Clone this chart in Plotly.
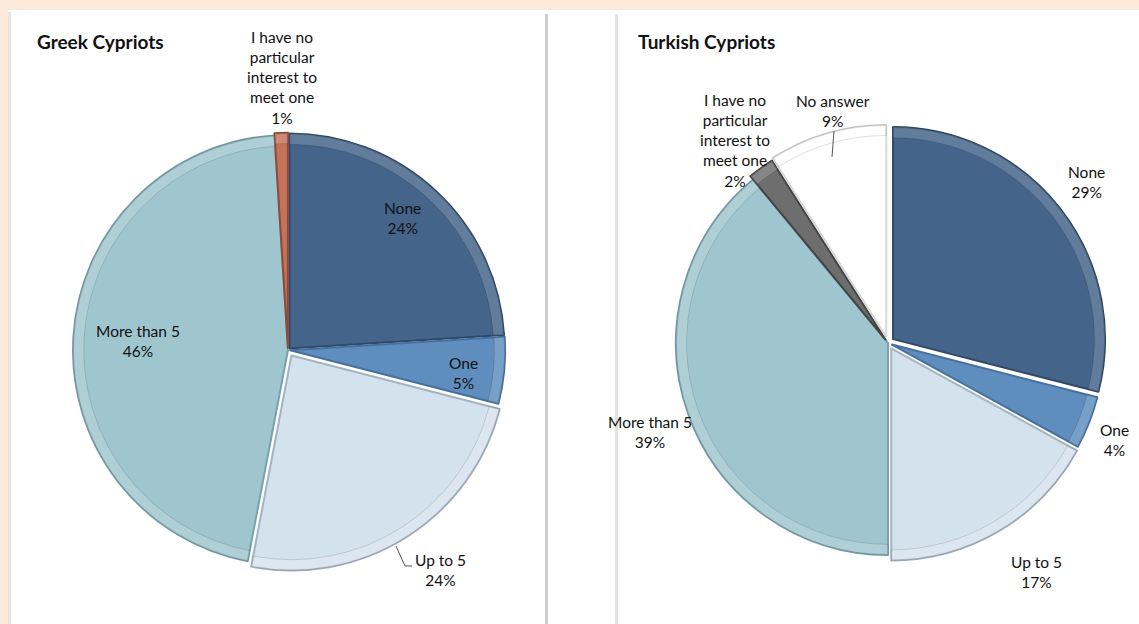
import math
import plotly.graph_objects as go

W, H = 1139, 624

# data
greek_labels = ["None", "One", "Up to 5", "More than 5",
                "I have no<br>particular<br>interest to<br>meet one"]
greek_values = [24, 5, 24, 46, 1]

turkish_labels = ["None", "One", "Up to 5", "More than 5",
                  "I have no<br>particular<br>interest to<br>meet one", "No answer"]
turkish_values = [29, 4, 17, 39, 2, 9]

# styles
greek_colors = ["#44648A", "#5F8DBE", "#D4E2EE", "#9FC6CF", "#C4735A"]
greek_lines = ["#2E4A66", "#46719E", "#A3B3C2", "#78A1AB", "#8E4A38"]
turkish_colors = ["#44648A", "#5F8DBE", "#D4E2EE", "#9FC6CF", "#6E6E6E", "#FFFFFF"]
turkish_lines = ["#2E4A66", "#46719E", "#A3B3C2", "#78A1AB", "#444444", "#D8D8D8"]
greek_pull = [0.01, 0.01, 0.03, 0.0, 0.01]
turkish_pull = [0.03, 0.02, 0.03, 0.0, 0.02, 0.03]
# label distance from centre (fraction of radius) plus a small pixel nudge
greek_label_r = [0.81, 0.82, 1.25, 0.70, 1.27]
greek_nudge = [(-5, -5), (0, 6), (8, -7), (0, 0), (3, 0)]
turkish_label_r = [1.21, 1.16, 1.29, 1.20, 1.19, 1.12]
turkish_nudge = [(-4, -4), (-2, 6), (9, -6), (1, 3), (-5, 2), (11, -4)]

FONT = "Lato, 'Open Sans', Arial, sans-serif"


def px(x):
    return x / W


def py(y):
    return 1 - y / H


def pie_domain(pull, cx, cy, r):
    R = r * (1 + max(pull))
    return dict(x=[px(cx - R), px(cx + R)], y=[py(cy + R), py(cy - R)])


def pie_trace(name, labels, values, colors, lines, pull, cx, cy, r):
    return go.Pie(
        name=name,
        labels=[l.replace("<br>", " ") for l in labels],
        values=values,
        sort=False,
        direction="clockwise",
        rotation=0,
        pull=pull,
        textinfo="none",
        hoverinfo="label+percent",
        marker=dict(colors=colors, line=dict(color=lines, width=2)),
        domain=pie_domain(pull, cx, cy, r),
        showlegend=False,
    )


def rim_trace(labels, values, pull, cx, cy, r):
    # thin light bevel ring on the outside of each slice
    return go.Pie(
        labels=[l.replace("<br>", " ") for l in labels],
        values=values,
        sort=False,
        direction="clockwise",
        rotation=0,
        pull=pull,
        hole=0.95,
        textinfo="none",
        hoverinfo="skip",
        marker=dict(colors=["rgba(255,255,255,0.16)"] * len(values),
                    line=dict(color="rgba(0,0,0,0.12)", width=1)),
        domain=pie_domain(pull, cx, cy, r),
        showlegend=False,
    )


def pie_labels(labels, values, label_r, nudge, cx, cy, r):
    anns = []
    total = sum(values)
    start = 0
    for lab, v, k, (nx, ny) in zip(labels, values, label_r, nudge):
        mid = (start + v / 2) / total * 2 * math.pi
        start += v
        x = cx + r * k * math.sin(mid) + nx
        y = cy - r * k * math.cos(mid) + ny
        anns.append(dict(
            x=px(x), y=py(y), xref="paper", yref="paper",
            text=f"{lab}<br>{round(v / total * 100)}%",
            showarrow=False, xanchor="center", yanchor="middle",
            font=dict(family=FONT, size=15.5, color="#111111"),
        ))
    return anns


g_cx, g_cy, g_r = 288, 350, 215
t_cx, t_cy, t_r = 888, 343, 212

fig = go.Figure()
fig.add_trace(pie_trace("Greek Cypriots", greek_labels, greek_values, greek_colors,
                        greek_lines, greek_pull, g_cx, g_cy, g_r))
fig.add_trace(rim_trace(greek_labels, greek_values, greek_pull, g_cx, g_cy, g_r))
fig.add_trace(pie_trace("Turkish Cypriots", turkish_labels, turkish_values, turkish_colors,
                        turkish_lines, turkish_pull, t_cx, t_cy, t_r))
fig.add_trace(rim_trace(turkish_labels, turkish_values, turkish_pull, t_cx, t_cy, t_r))

annotations = pie_labels(greek_labels, greek_values, greek_label_r, greek_nudge, g_cx, g_cy, g_r)
annotations += pie_labels(turkish_labels, turkish_values, turkish_label_r, turkish_nudge,
                          t_cx, t_cy, t_r)
annotations.append(dict(x=px(35), y=py(42), xref="paper", yref="paper", text="<b>Greek Cypriots</b>",
                        showarrow=False, xanchor="left", yanchor="middle",
                        font=dict(family=FONT, size=19, color="#111111")))
annotations.append(dict(x=px(636), y=py(42), xref="paper", yref="paper", text="<b>Turkish Cypriots</b>",
                        showarrow=False, xanchor="left", yanchor="middle",
                        font=dict(family=FONT, size=19, color="#111111")))

shapes = [
    # white sheet on the peach background
    dict(type="rect", xref="paper", yref="paper", x0=px(8), x1=1, y0=0, y1=py(10),
         fillcolor="white", line=dict(width=0), layer="below"),
    # panel shadows
    dict(type="rect", xref="paper", yref="paper", x0=px(8), x1=px(11), y0=0, y1=py(12),
         fillcolor="#E6E6E6", line=dict(width=0), layer="below"),
    dict(type="rect", xref="paper", yref="paper", x0=px(545), x1=px(548), y0=0, y1=py(14),
         fillcolor="#CFCFCF", line=dict(width=0), layer="below"),
    dict(type="rect", xref="paper", yref="paper", x0=px(615), x1=px(618), y0=0, y1=py(14),
         fillcolor="#E2E2E2", line=dict(width=0), layer="below"),
    # leader lines
    dict(type="path", xref="paper", yref="paper",
         path=f"M {px(396)} {py(546)} L {px(405)} {py(566)} L {px(412)} {py(566)}",
         line=dict(color="#555555", width=1)),
    dict(type="line", xref="paper", yref="paper", x0=px(834), y0=py(131), x1=px(832), y1=py(157),
         line=dict(color="#555555", width=1)),
]

fig.update_layout(
    width=W, height=H,
    margin=dict(l=0, r=0, t=0, b=0),
    paper_bgcolor="#FDE9D9",
    plot_bgcolor="white",
    annotations=annotations,
    shapes=shapes,
)

fig.write_html("out.html", config={"displayModeBar": False},
               post_script="document.body.style.margin='0';")
